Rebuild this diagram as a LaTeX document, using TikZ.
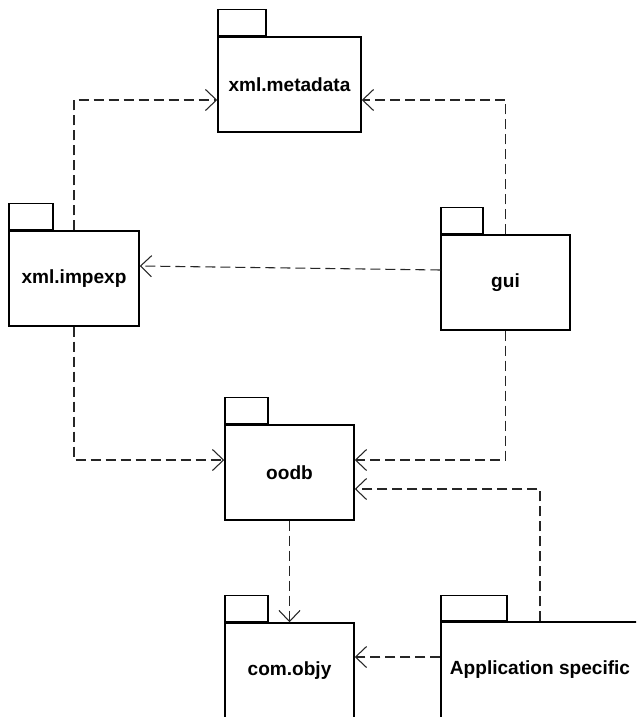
\documentclass[tikz,border=0pt]{standalone}
\usepackage{fontspec}
\setmainfont{Liberation Sans}
\usetikzlibrary{arrows.meta,calc}
\tikzset{
  pkgbody/.style={draw=black, line width=1.1pt, fill=white, minimum height=71.25pt, inner sep=0pt,
    font=\bfseries\fontsize{14.3}{17}\selectfont},
  pkgtab/.style={draw=black, line width=1.1pt, fill=white, minimum height=19.5pt, inner sep=0pt, anchor=south west},
  dep/.style={draw=black!85, line width=0.8pt, dash pattern=on 7.5pt off 3.75pt,
    -{Straight Barb[length=8.3pt,width=15.8pt,line width=0.8pt]}}
}
\begin{document}
\begin{tikzpicture}[x=0.75pt,y=-0.75pt]
\useasboundingbox (0,0) rectangle (636,717);
\clip (0,0) rectangle (636,717);
\fill[white] (0,0) rectangle (636,717);
% package bodies
\node[pkgbody, minimum width=107.25pt] (meta) at (289.5,84.5) {xml.metadata};
\node[pkgbody, minimum width=97.5pt] (impexp) at (74,278.5) {xml.impexp};
\node[pkgbody, minimum width=96.75pt] (gui) at (505.5,282.5) {gui};
\node[pkgbody, minimum width=96.75pt] (oodb) at (289.5,472.5) {oodb};
\node[pkgbody, minimum width=96.75pt, minimum height=72pt] (objy) at (289.5,671) {com.objy};
\node[pkgbody, minimum width=148.5pt, minimum height=72pt] (app) at (540,670) {Application specific};
% tabs
\node[pkgtab, minimum width=36pt] (metatab) at (meta.north west) {};
\node[pkgtab, minimum width=33pt] (impexptab) at (impexp.north west) {};
\node[pkgtab, minimum width=31.5pt] (guitab) at (gui.north west) {};
\node[pkgtab, minimum width=32.25pt] (oodbtab) at (oodb.north west) {};
\node[pkgtab, minimum width=32.25pt] (objytab) at (objy.north west) {};
\node[pkgtab, minimum width=49.5pt, minimum height=18.75pt] (apptab) at (app.north west) {};
% dependencies
\draw[dep] (impexp.north) |- (meta.west |- 0,100);
\draw[dep] (gui.north) |- (meta.east |- 0,100);
\draw[dep] (gui.west |- 0,270) -- (impexp.east |- 0,266);
\draw[dep] (impexp.south) |- (oodb.west |- 0,460);
\draw[dep] (gui.south) |- (oodb.east |- 0,460);
\draw[dep] (app.north) |- (oodb.east |- 0,489);
\draw[dep] (oodb.south) -- (objy.north);
\draw[dep] (app.west |- 0,657) -- (objy.east |- 0,657);
\end{tikzpicture}
\end{document}
